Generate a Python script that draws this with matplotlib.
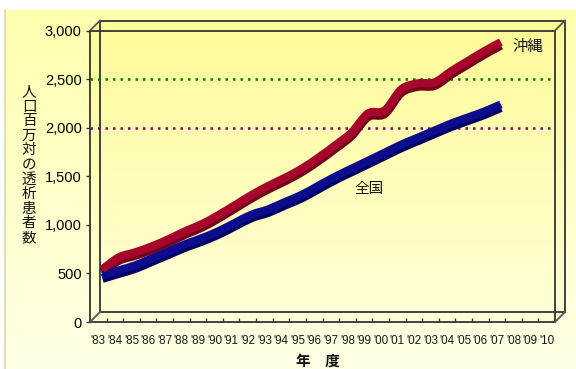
import numpy as np
import matplotlib
matplotlib.use("Agg")
import matplotlib.pyplot as plt
import matplotlib.transforms as mtransforms
from matplotlib.patches import Polygon, PathPatch
from matplotlib.path import Path

# ---------------------------------------------------------------------------
# data (per million population, fiscal years '83 - '07)
years = ["'83", "'84", "'85", "'86", "'87", "'88", "'89", "'90", "'91", "'92",
         "'93", "'94", "'95", "'96", "'97", "'98", "'99", "'00", "'01", "'02",
         "'03", "'04", "'05", "'06", "'07", "'08", "'09", "'10"]
okinawa = [486, 610, 662, 724, 797, 879, 952, 1045, 1148, 1252,
           1345, 1428, 1521, 1634, 1759, 1893, 2090, 2121, 2338, 2400,
           2410, 2524, 2628, 2731, 2824]
national = [424, 476, 528, 600, 672, 745, 807, 879, 965, 1050,
            1104, 1179, 1252, 1345, 1438, 1521, 1603, 1686, 1769, 1841,
            1914, 1986, 2048, 2110, 2183]
yticks = [0, 500, 1000, 1500, 2000, 2500, 3000]
ref_lines = [(2500, '#008000'), (2000, '#800080')]

CJK = ['Noto Sans CJK JP', 'DejaVu Sans']
NUM = 'Liberation Sans'

# ---------------------------------------------------------------------------
W, H = 576, 369
fig = plt.figure(figsize=(W / 100, H / 100), dpi=100)
fig.patch.set_facecolor('white')

# background layer in pixel coordinates
bg = fig.add_axes([0, 0, 1, 1])
bg.set_xlim(0, W)
bg.set_ylim(H, 0)
bg.axis('off')

def gradient(top, bottom, n=256):
    top = np.array(matplotlib.colors.to_rgb(top))
    bottom = np.array(matplotlib.colors.to_rgb(bottom))
    t = np.linspace(0, 1, n)[:, None]
    return (top * (1 - t) + bottom * t)[:, None, :]

# outer panel
bg.imshow(gradient('#FFFFAE', '#FFFFE6'), extent=(5, W, H, 10), aspect='auto', zorder=0)
bg.plot([5, 5], [10, H], color='#D8D8B0', lw=1.2, zorder=1)

# 3D box geometry (front face + depth)
L, R, T, B = 90, 555, 30.5, 322
D = 10
box = Polygon([(L, T), (L + D, T - D), (R + D, T - D), (R + D, B - D), (R, B), (L, B)],
              closed=True, transform=bg.transData)
im = bg.imshow(gradient('#FFFB98', '#FFFFD8'), extent=(L, R + D, B, T - D),
               aspect='auto', zorder=1)
im.set_clip_path(box)

frame = dict(color='#333333', lw=1.3, zorder=3, solid_capstyle='projecting')
bg.plot([L, R, R, L, L], [T, T, B, B, T], **frame)
bg.plot([L + D, R + D, R + D, L + D, L + D], [T - D, T - D, B - D, B - D, T - D], **frame)
for x0, y0 in [(L, T), (R, T), (R, B), (L, B)]:
    bg.plot([x0, x0 + D], [y0, y0 - D], color='#555555', lw=1.3, zorder=3)

# ---------------------------------------------------------------------------
ax = fig.add_axes([L / W, 1 - B / H, (R - L) / W, (B - T) / H])
ax.patch.set_visible(False)
for s in ax.spines.values():
    s.set_visible(False)

n = len(years)
ax.set_xlim(-0.5, n - 0.5)
ax.set_ylim(0, 3000)

ax.set_yticks(yticks)
ax.set_yticklabels([f"{v:,}" for v in yticks], fontfamily=NUM, fontsize=10.5)
ax.tick_params(axis='y', direction='out', length=3, width=1, color='#333333', pad=3)

ax.set_xticks(range(n))
ax.set_xticklabels(years, fontfamily=NUM, fontsize=8.4, color='#1a1a1a')
ax.tick_params(axis='x', length=0, pad=9)
ax.set_xticks(np.arange(0.5, n - 1, 1), minor=True)
ax.tick_params(axis='x', which='minor', direction='in', length=3, width=1, color='#333333')

for val, col in ref_lines:
    ax.axhline(val, color=col, lw=1.8, ls=(0, (1, 2.0)), zorder=2)

# smoothed line path (Excel-style smoothing: Catmull-Rom as cubic Bezier)
def smooth_path(xs, ys):
    p = np.column_stack([xs, ys]).astype(float)
    ext = np.vstack([p[0], p, p[-1]])
    verts = [p[0]]
    codes = [Path.MOVETO]
    for i in range(len(p) - 1):
        p0, p1, p2, p3 = ext[i], ext[i + 1], ext[i + 2], ext[i + 3]
        verts += [p1 + (p2 - p0) / 6, p2 - (p3 - p1) / 6, p2]
        codes += [Path.CURVE4] * 3
    return Path(verts, codes)

def shift(dx, dy):
    return ax.transData + mtransforms.ScaledTranslation(dx / 100, dy / 100, fig.dpi_scale_trans)

# thick shaded "3D" ribbons, drawn at mid depth
for data, main, dark in [(national, '#0C0C8C', '#000062'), (okinawa, '#A6062C', '#74001C')]:
    path = smooth_path(np.arange(len(data)), data)
    ax.add_patch(PathPatch(path, facecolor='none', edgecolor=dark, lw=6.4,
                           transform=shift(4, 2.3), zorder=4, capstyle='butt', clip_on=False))
    ax.add_patch(PathPatch(path, facecolor='none', edgecolor=main, lw=5.8,
                           transform=shift(4, 5.5), zorder=5, capstyle='butt', clip_on=False))

# labels
fig.text(528 / W, 1 - 47 / H, '沖縄', fontfamily=CJK, fontsize=11,
         ha='center', va='center', color='#111111')
fig.text(369 / W, 1 - 189 / H, '全国', fontfamily=CJK, fontsize=10.5,
         ha='center', va='center', color='#111111')
fig.text(29 / W, 1 - 165 / H, '\n'.join('人口百万対の透析患者数'), fontfamily=CJK,
         fontsize=10.5, ha='center', va='center', linespacing=1.05, color='#111111')
fig.text(318 / W, 1 - 361 / H, '年\u3000度', fontfamily=CJK, fontsize=10.5,
         fontweight='bold', ha='center', va='center', color='#111111')

fig.savefig('out.png', dpi=100)
